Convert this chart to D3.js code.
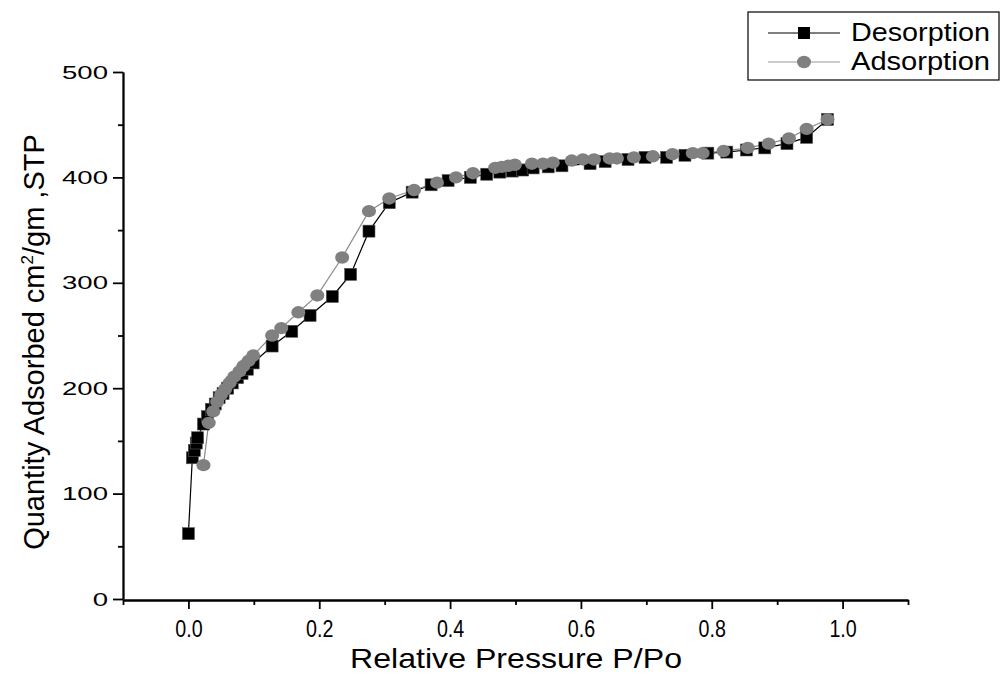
<!DOCTYPE html>
<html>
<head>
<meta charset="utf-8">
<script src="https://cdn.jsdelivr.net/npm/d3@7"></script>
<style>
  body { margin: 0; background: #fff; }
  svg { display: block; }
  text { font-family: "Liberation Sans", Arial, sans-serif; fill: #000; }
</style>
</head>
<body>
<div class="viz"></div>
<script>
var width = 1001,
    height = 675;

// desorption branch (black squares)
var desP = [0.000, 0.006, 0.009, 0.012, 0.014, 0.023, 0.029, 0.035, 0.041, 0.047, 0.053, 0.060,
  0.067, 0.075, 0.082, 0.090, 0.099, 0.128, 0.158, 0.186, 0.220, 0.248, 0.276, 0.307, 0.342,
  0.371, 0.397, 0.431, 0.456, 0.476, 0.495, 0.511, 0.527, 0.550, 0.571, 0.614, 0.637, 0.672,
  0.698, 0.731, 0.759, 0.794, 0.823, 0.853, 0.881, 0.915, 0.945, 0.977];
var desQ = [62, 134, 141, 148, 153, 166, 173, 180, 185, 191, 195, 200,
  205, 210, 214, 218, 224, 240, 254, 269, 287, 308, 349, 376, 386,
  393, 397, 400, 403, 405, 406, 407, 409, 410, 411, 413, 415, 417,
  419, 419, 421, 423, 424, 426, 428, 432, 438, 455];

// adsorption branch (grey circles)
var adsP = [0.023, 0.031, 0.038, 0.044, 0.050, 0.056, 0.063, 0.070, 0.078, 0.084, 0.092, 0.099,
  0.128, 0.142, 0.168, 0.197, 0.235, 0.276, 0.307, 0.345, 0.380, 0.409, 0.435, 0.469, 0.479,
  0.489, 0.499, 0.525, 0.542, 0.557, 0.586, 0.603, 0.620, 0.644, 0.655, 0.681, 0.710, 0.740,
  0.771, 0.786, 0.818, 0.855, 0.887, 0.918, 0.945, 0.977];
var adsQ = [127, 167, 178, 187, 194, 199, 205, 211, 216, 221, 226, 231,
  250, 257, 272, 288, 324, 368, 380, 388, 395, 400, 404, 409, 410,
  411, 412, 413, 413, 414, 416, 417, 417, 418, 418, 419, 420, 422,
  423, 423, 425, 428, 432, 437, 446, 455];

var xTicks = [0.0, 0.2, 0.4, 0.6, 0.8, 1.0];
var xMinor = [-0.1, 0.1, 0.3, 0.5, 0.7, 0.9, 1.1];
var yTicks = [0, 100, 200, 300, 400, 500];
var yMinor = [50, 150, 250, 350, 450];

var desorption = desP.map(function(p, i){ return {p: p, q: desQ[i]}; });
var adsorption = adsP.map(function(p, i){ return {p: p, q: adsQ[i]}; });

var svg = d3.select('.viz').append('svg')
  .attr('width', width)
  .attr('height', height);

var x = d3.scaleLinear().domain([-0.1, 1.1]).range([123, 908]);
var y = d3.scaleLinear().domain([0, 500]).range([599, 72]);

/* axes */
var xAxis = d3.axisBottom(x)
  .tickValues(xTicks)
  .tickFormat(d3.format('.1f'))
  .tickSize(9)
  .tickSizeOuter(0);

var xAxisMinor = d3.axisBottom(x)
  .tickValues(xMinor)
  .tickFormat('')
  .tickSize(5)
  .tickSizeOuter(0);

var yAxis = d3.axisLeft(y)
  .tickValues(yTicks)
  .tickSize(10)
  .tickSizeOuter(0);

var yAxisMinor = d3.axisLeft(y)
  .tickValues(yMinor)
  .tickFormat('')
  .tickSize(5)
  .tickSizeOuter(0);

var gx = svg.append('g')
  .attr('transform', 'translate(0,600)')
  .call(xAxis);
svg.append('g')
  .attr('transform', 'translate(0,600)')
  .call(xAxisMinor);

var gy = svg.append('g')
  .attr('transform', 'translate(123,0)')
  .call(yAxis);
svg.append('g')
  .attr('transform', 'translate(123,0)')
  .call(yAxisMinor);

svg.selectAll('.domain, .tick line')
  .attr('stroke', '#000')
  .attr('stroke-width', 1.8);

// x labels are tall and narrow in the original
gx.selectAll('text')
  .attr('y', 0)
  .attr('dy', 0)
  .attr('transform', 'translate(0,37) scale(0.82,1)')
  .style('font-size', '24px');

// y labels look stretched sideways
gy.selectAll('text')
  .attr('x', 0)
  .attr('transform', 'translate(-15,0) scale(1.45,1)')
  .style('font-size', '19px');

/* axis titles */
svg.append('text')
  .attr('x', 516)
  .attr('y', 668)
  .attr('text-anchor', 'middle')
  .attr('textLength', 332)
  .attr('lengthAdjust', 'spacingAndGlyphs')
  .style('font-size', '28px')
  .text('Relative Pressure P/Po');

var yTitle = svg.append('text')
  .attr('transform', 'translate(44,342) rotate(-90)')
  .attr('text-anchor', 'middle')
  .style('font-size', '29px');
yTitle.append('tspan').text('Quantity Adsorbed cm');
yTitle.append('tspan').attr('dy', -11).style('font-size', '17px').text('2');
yTitle.append('tspan').attr('dy', 11).text('/gm ,STP');

/* lines */
var line = d3.line()
  .x(function(d){ return x(d.p); })
  .y(function(d){ return y(d.q); });

svg.append('path')
  .datum(desorption)
  .attr('d', line)
  .attr('fill', 'none')
  .attr('stroke', '#000')
  .attr('stroke-width', 1.2);

svg.append('path')
  .datum(adsorption)
  .attr('d', line)
  .attr('fill', 'none')
  .attr('stroke', '#8a8a8a')
  .attr('stroke-width', 1.2);

/* markers */
svg.append('g').selectAll('rect')
  .data(desorption)
  .enter()
  .append('rect')
  .attr('x', function(d){ return x(d.p) - 6; })
  .attr('y', function(d){ return y(d.q) - 6; })
  .attr('width', 12)
  .attr('height', 12)
  .attr('fill', '#000')
  .attr('stroke', '#555')
  .attr('stroke-width', 0.6);

svg.append('g').selectAll('ellipse')
  .data(adsorption)
  .enter()
  .append('ellipse')
  .attr('cx', function(d){ return x(d.p); })
  .attr('cy', function(d){ return y(d.q); })
  .attr('rx', 7)
  .attr('ry', 6.2)
  .attr('fill', '#808080');

/* legend */
var legend = svg.append('g');

legend.append('rect')
  .attr('x', 748)
  .attr('y', 12)
  .attr('width', 251)
  .attr('height', 68)
  .attr('fill', '#fff')
  .attr('stroke', '#000')
  .attr('stroke-width', 1.2);

legend.append('line')
  .attr('x1', 768).attr('x2', 840)
  .attr('y1', 33).attr('y2', 33)
  .attr('stroke', '#000');
legend.append('rect')
  .attr('x', 798).attr('y', 27)
  .attr('width', 12).attr('height', 12)
  .attr('fill', '#000');
legend.append('text')
  .attr('x', 851).attr('y', 41)
  .attr('textLength', 139)
  .attr('lengthAdjust', 'spacingAndGlyphs')
  .style('font-size', '25px')
  .text('Desorption');

legend.append('line')
  .attr('x1', 768).attr('x2', 840)
  .attr('y1', 62).attr('y2', 62)
  .attr('stroke', '#999');
legend.append('ellipse')
  .attr('cx', 804).attr('cy', 62)
  .attr('rx', 7).attr('ry', 6.2)
  .attr('fill', '#808080');
legend.append('text')
  .attr('x', 851).attr('y', 70)
  .attr('textLength', 139)
  .attr('lengthAdjust', 'spacingAndGlyphs')
  .style('font-size', '25px')
  .text('Adsorption');
</script>
</body>
</html>
